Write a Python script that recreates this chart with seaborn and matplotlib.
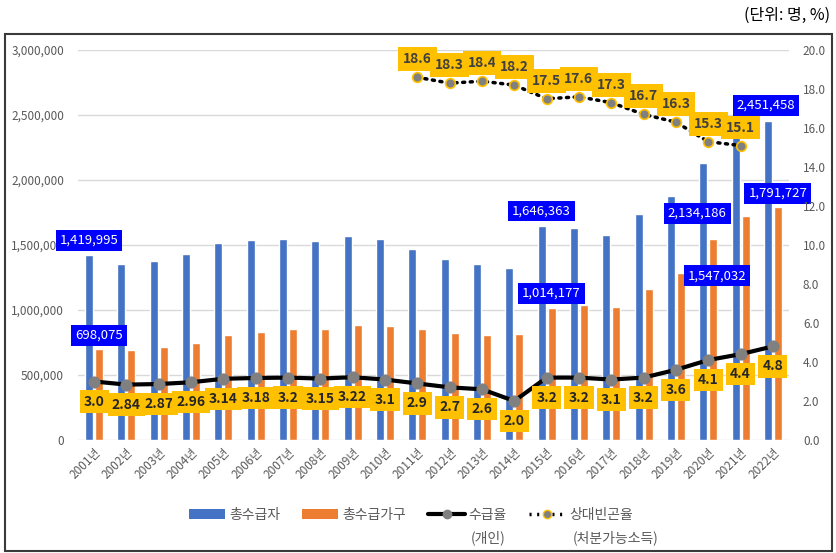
import matplotlib.pyplot as plt
import matplotlib.ticker as mticker
import numpy as np
import pandas as pd
import seaborn as sns
from matplotlib.lines import Line2D
from matplotlib.patches import Patch, Rectangle

plt.switch_backend("Agg")

# --- data ---
years = ["2001년", "2002년", "2003년", "2004년", "2005년", "2006년", "2007년", "2008년",
         "2009년", "2010년", "2011년", "2012년", "2013년", "2014년", "2015년", "2016년",
         "2017년", "2018년", "2019년", "2020년", "2021년", "2022년"]
recipients = [1419995, 1352000, 1377000, 1428000, 1513000, 1536000, 1546000, 1528000,
              1572000, 1546000, 1469000, 1392000, 1352000, 1325000, 1646363, 1629000,
              1578000, 1742000, 1876000, 2134186, 2358000, 2451458]
households = [698075, 690000, 715000, 749000, 808000, 833000, 851000, 851000,
              885000, 877000, 851000, 821000, 808000, 815000, 1014177, 1036000,
              1026000, 1162000, 1282000, 1547032, 1723000, 1791727]
rate = [3.0, 2.84, 2.87, 2.96, 3.14, 3.18, 3.2, 3.15, 3.22, 3.1, 2.9, 2.7, 2.6, 2.0,
        3.2, 3.2, 3.1, 3.2, 3.6, 4.1, 4.4, 4.8]
rate_labels = ["3.0", "2.84", "2.87", "2.96", "3.14", "3.18", "3.2", "3.15", "3.22", "3.1",
               "2.9", "2.7", "2.6", "2.0", "3.2", "3.2", "3.1", "3.2", "3.6", "4.1", "4.4", "4.8"]
poverty_years = years[10:21]
poverty = [18.6, 18.3, 18.4, 18.2, 17.5, 17.6, 17.3, 16.7, 16.3, 15.3, 15.1]

BLUE = "#4472C4"
ORANGE = "#ED7D31"
GOLD = "#FFC000"
GREY_TXT = "#595959"

# which bars get a value box, and where (pixel offset from the bar top)
bar_boxes = [(0, 0, 0, 15), (0, 1, 0, 14), (14, 0, 0, 15), (14, 1, 0, 15),
             (19, 0, -6, -51), (19, 1, 4, -37), (21, 0, -2, 16), (21, 1, 0, 14)]

sns.set_style("white")
plt.rcParams["font.family"] = ["Noto Sans CJK KR", "DejaVu Sans"]

fig = plt.figure(figsize=(8.37, 5.53), dpi=100)
ax = fig.add_axes([78 / 837, 1 - 440 / 553, 711 / 837, 390 / 553])

df = pd.DataFrame({
    "year": years * 2,
    "value": recipients + households,
    "series": ["총수급자"] * len(years) + ["총수급가구"] * len(years),
})
sns.barplot(data=df, x="year", y="value", hue="series", palette=[BLUE, ORANGE],
            width=0.62, gap=0.2, saturation=1, legend=False, ax=ax, zorder=2)

ax.set_ylim(0, 3_000_000)
ax.set_xlim(-0.5, len(years) - 0.5)
ax.set_yticks(np.arange(0, 3_000_001, 500_000))
ax.yaxis.set_major_formatter(mticker.FuncFormatter(lambda v, p: f"{v:,.0f}"))
ax.grid(axis="y", color="#D9D9D9", lw=1, zorder=0)
ax.set_axisbelow(True)
ax.set_xlabel("")
ax.set_ylabel("")
for s in ax.spines.values():
    s.set_visible(False)
ax.tick_params(axis="y", length=0, pad=10, labelsize=8.5, labelcolor=GREY_TXT)
ax.tick_params(axis="x", length=0, pad=4, labelsize=8.5, labelcolor=GREY_TXT)
plt.setp(ax.get_xticklabels(), rotation=45, ha="right", rotation_mode="anchor")

# value boxes on bars
for i, k, dx, dy in bar_boxes:
    p = ax.containers[k][i]
    xc = p.get_x() + p.get_width() / 2
    ax.annotate(f"{p.get_height():,.0f}", xy=(xc, p.get_height()), xytext=(dx, dy),
                textcoords="offset pixels", ha="center", va="center", fontsize=9.5,
                color="white", annotation_clip=False, zorder=6,
                bbox=dict(boxstyle="square,pad=0.3", fc="#0000FF", ec="none"))

# right axis: rates
ax2 = ax.twinx()
xi = np.arange(len(years))
sns.lineplot(x=xi, y=rate, ax=ax2, color="black", lw=3, marker="o", markersize=8,
             markerfacecolor="#808080", markeredgecolor="#808080", zorder=3)
xp = np.arange(10, 21)
sns.lineplot(x=xp, y=poverty, ax=ax2, color="black", lw=2.5, marker="o", markersize=7,
             markerfacecolor="#808080", markeredgecolor=GOLD, markeredgewidth=1.2,
             linestyle=(0, (0.6, 1.6)), dash_capstyle="round", zorder=3)
ax2.set_ylim(0, 20)
ax2.set_yticks(np.arange(0, 20.1, 2))
ax2.yaxis.set_major_formatter(mticker.FuncFormatter(lambda v, p: f"{v:.1f}"))
ax2.set_ylabel("")
for s in ax2.spines.values():
    s.set_visible(False)
ax2.tick_params(axis="y", length=0, pad=10, labelsize=8.5, labelcolor=GREY_TXT)
ax2.grid(False)

for x, v, t in zip(xi, rate, rate_labels):
    ax2.annotate(t, xy=(x, v), xytext=(0, -20), textcoords="offset pixels",
                 ha="center", va="center", fontsize=10, fontweight="bold", color="#262626",
                 zorder=5, bbox=dict(boxstyle="square,pad=0.3", fc=GOLD, ec="none"))
for x, v in zip(xp, poverty):
    ax2.annotate(f"{v:.1f}", xy=(x, v), xytext=(0, 18), textcoords="offset pixels",
                 ha="center", va="center", fontsize=10, fontweight="bold", color="#404040",
                 zorder=5, bbox=dict(boxstyle="square,pad=0.35", fc=GOLD, ec="none"))

# legend
handles = [
    Patch(fc=BLUE, ec="none"),
    Patch(fc=ORANGE, ec="none"),
    Line2D([], [], color="black", lw=3, marker="o", markersize=6,
           markerfacecolor="#808080", markeredgecolor="#808080"),
    Line2D([], [], color="black", lw=2.5, linestyle=(0, (0.6, 1.6)), marker="o",
           markersize=6, markerfacecolor="#808080", markeredgecolor=GOLD),
]
fig.legend(handles, ["총수급자", "총수급가구", "수급율", "상대빈곤율"], loc="center",
           bbox_to_anchor=(411 / 837, 1 - 515 / 553), ncol=4, frameon=False,
           fontsize=10, labelcolor=GREY_TXT, handlelength=2.6, handleheight=0.8,
           handletextpad=0.3, columnspacing=1.6)
fig.text(488 / 837, 1 - 538 / 553, "(개인)", ha="center", va="center", fontsize=10, color=GREY_TXT)
fig.text(616 / 837, 1 - 538 / 553, "(처분가능소득)", ha="center", va="center", fontsize=10,
         color=GREY_TXT)

fig.text(830 / 837, 1 - 15 / 553, "(단위: 명, %)", ha="right", va="center", fontsize=11.5,
         color="black")
fig.patches.append(Rectangle((5 / 837, 2 / 553), 827 / 837, 517 / 553, transform=fig.transFigure,
                             fill=False, ec="#3A3A3A", lw=1.5))

fig.savefig("out.png", dpi=100)
